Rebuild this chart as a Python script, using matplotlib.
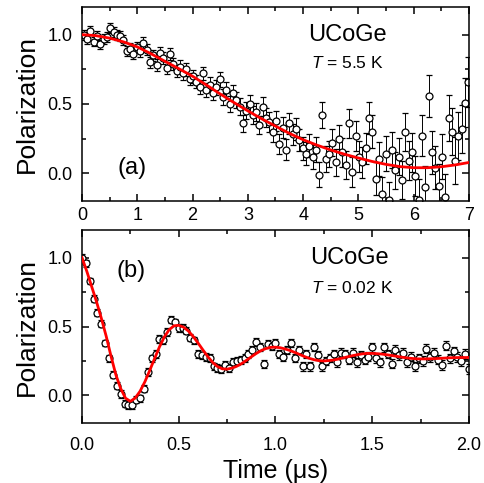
import numpy as np
import matplotlib
matplotlib.use("Agg")
import matplotlib.pyplot as plt
from matplotlib.ticker import MultipleLocator

plt.rcParams['font.family'] = ['Liberation Sans', 'DejaVu Sans']
plt.rcParams['mathtext.fontset'] = 'custom'
plt.rcParams['mathtext.rm'] = 'Liberation Sans'
plt.rcParams['mathtext.it'] = 'Liberation Sans:italic'

# ---- panel (a): T = 5.5 K ----
time_a = [0.03, 0.09, 0.15, 0.21, 0.27, 0.33, 0.39, 0.45, 0.51, 0.57,
          0.63, 0.69, 0.75, 0.81, 0.87, 0.93, 0.99, 1.05, 1.11, 1.17,
          1.23, 1.29, 1.35, 1.41, 1.47, 1.53, 1.59, 1.65, 1.71, 1.77,
          1.83, 1.89, 1.95, 2.01, 2.07, 2.13, 2.19, 2.25, 2.31, 2.37,
          2.43, 2.49, 2.55, 2.61, 2.67, 2.73, 2.79, 2.85, 2.91, 2.97,
          3.03, 3.09, 3.15, 3.21, 3.27, 3.33, 3.39, 3.45, 3.51, 3.57,
          3.63, 3.69, 3.75, 3.81, 3.87, 3.93, 3.99, 4.05, 4.11, 4.17,
          4.23, 4.29, 4.35, 4.41, 4.47, 4.53, 4.59, 4.65, 4.71, 4.77,
          4.83, 4.89, 4.95, 5.01, 5.07, 5.13, 5.19, 5.25, 5.31, 5.37,
          5.43, 5.49, 5.55, 5.61, 5.67, 5.73, 5.79, 5.85, 5.91, 5.97,
          6.03, 6.09, 6.15, 6.21, 6.27, 6.33, 6.39, 6.45, 6.51, 6.57,
          6.63, 6.69, 6.75, 6.81, 6.87, 6.93, 6.99]
pol_a = [1.00, 0.97, 1.03, 0.95, 0.99, 0.93, 0.97, 0.98, 1.05, 1.02,
         1.00, 0.99, 0.96, 0.88, 0.90, 0.86, 0.91, 0.88, 0.94, 0.89,
         0.80, 0.85, 0.78, 0.87, 0.83, 0.76, 0.86, 0.79, 0.74, 0.77,
         0.72, 0.75, 0.68, 0.70, 0.66, 0.62, 0.72, 0.60, 0.64, 0.58,
         0.62, 0.68, 0.55, 0.60, 0.50, 0.58, 0.53, 0.48, 0.36, 0.45,
         0.50, 0.42, 0.44, 0.35, 0.48, 0.40, 0.37, 0.30, 0.38, 0.21,
         0.33, 0.17, 0.36, 0.28, 0.32, 0.24, 0.18, 0.14, 0.20, 0.12,
         0.17, -0.01, 0.42, 0.10, 0.14, 0.22, 0.08, 0.25, 0.15, 0.06,
         0.36, 0.01, 0.27, 0.12, 0.08, 0.18, 0.40, 0.30, -0.04, 0.10,
         -0.15, 0.14, -0.19, 0.17, 0.02, 0.12, -0.05, 0.30, 0.09, 0.15,
         -0.02, -0.19, 0.27, -0.10, 0.56, 0.15, 0.04, -0.09, 0.12, -0.17,
         0.40, 0.30, 0.09, 0.27, 0.32, 0.51, 0.66]
err_a = [0.035, 0.035, 0.035, 0.035, 0.035, 0.035, 0.035, 0.036, 0.036, 0.036,
         0.036, 0.036, 0.037, 0.037, 0.038, 0.038, 0.039, 0.039, 0.040, 0.040,
         0.040, 0.041, 0.041, 0.041, 0.042, 0.042, 0.043, 0.043, 0.044, 0.044,
         0.045, 0.046, 0.046, 0.047, 0.048, 0.049, 0.049, 0.050, 0.051, 0.052,
         0.053, 0.054, 0.055, 0.056, 0.057, 0.058, 0.059, 0.060, 0.061, 0.062,
         0.063, 0.064, 0.065, 0.066, 0.067, 0.068, 0.070, 0.071, 0.072, 0.073,
         0.075, 0.076, 0.077, 0.079, 0.080, 0.081, 0.083, 0.084, 0.086, 0.087,
         0.089, 0.090, 0.092, 0.094, 0.095, 0.097, 0.098, 0.100, 0.102, 0.103,
         0.105, 0.107, 0.109, 0.110, 0.112, 0.114, 0.116, 0.118, 0.120, 0.122,
         0.124, 0.126, 0.128, 0.130, 0.132, 0.134, 0.136, 0.138, 0.140, 0.142,
         0.144, 0.146, 0.148, 0.150, 0.152, 0.155, 0.157, 0.159, 0.162, 0.164,
         0.167, 0.169, 0.171, 0.173, 0.176, 0.178, 0.182]
fit_t_a = [0.00, 0.25, 0.50, 0.75, 1.00, 1.25, 1.50, 1.75, 2.00, 2.25,
           2.50, 2.75, 3.00, 3.25, 3.50, 3.75, 4.00, 4.25, 4.50, 4.75,
           5.00, 5.25, 5.50, 5.75, 6.00, 6.25, 6.50, 6.75, 7.00]
fit_a = [1.000, 0.993, 0.975, 0.948, 0.912, 0.862, 0.808, 0.755, 0.700, 0.637,
         0.572, 0.510, 0.450, 0.393, 0.340, 0.288, 0.242, 0.203, 0.168, 0.137,
         0.110, 0.085, 0.064, 0.048, 0.040, 0.040, 0.047, 0.060, 0.078]

# ---- panel (b): T = 0.02 K ----
time_b = [0.00, 0.02, 0.04, 0.06, 0.08, 0.10, 0.12, 0.14, 0.16, 0.18,
          0.20, 0.22, 0.24, 0.26, 0.28, 0.30, 0.32, 0.34, 0.36, 0.38,
          0.40, 0.42, 0.44, 0.46, 0.48, 0.50, 0.52, 0.54, 0.56, 0.58,
          0.60, 0.62, 0.64, 0.66, 0.68, 0.70, 0.72, 0.74, 0.76, 0.78,
          0.80, 0.82, 0.84, 0.86, 0.88, 0.90, 0.92, 0.94, 0.96, 0.98,
          1.00, 1.02, 1.04, 1.06, 1.08, 1.10, 1.12, 1.14, 1.16, 1.18,
          1.20, 1.22, 1.24, 1.26, 1.28, 1.30, 1.32, 1.34, 1.36, 1.38,
          1.40, 1.42, 1.44, 1.46, 1.48, 1.50, 1.52, 1.54, 1.56, 1.58,
          1.60, 1.62, 1.64, 1.66, 1.68, 1.70, 1.72, 1.74, 1.76, 1.78,
          1.80, 1.82, 1.84, 1.86, 1.88, 1.90, 1.92, 1.94, 1.96, 1.98, 2.00]
pol_b = [1.00, 0.96, 0.83, 0.70, 0.60, 0.52, 0.38, 0.27, 0.15, 0.07,
         0.01, -0.06, -0.07, -0.07, -0.03, -0.02, 0.05, 0.17, 0.27, 0.30,
         0.41, 0.40, 0.46, 0.55, 0.53, 0.49, 0.49, 0.47, 0.42, 0.40,
         0.30, 0.29, 0.28, 0.27, 0.21, 0.20, 0.19, 0.22, 0.20, 0.24,
         0.25, 0.26, 0.27, 0.30, 0.33, 0.39, 0.35, 0.23, 0.37, 0.36,
         0.38, 0.30, 0.28, 0.33, 0.38, 0.27, 0.33, 0.21, 0.30, 0.21,
         0.35, 0.29, 0.21, 0.25, 0.27, 0.30, 0.24, 0.31, 0.30, 0.26,
         0.31, 0.24, 0.29, 0.26, 0.28, 0.35, 0.27, 0.24, 0.35, 0.30,
         0.23, 0.33, 0.29, 0.31, 0.24, 0.28, 0.21, 0.27, 0.25, 0.34,
         0.28, 0.31, 0.26, 0.22, 0.36, 0.27, 0.32, 0.28, 0.25, 0.30, 0.19]
err_b = [0.025, 0.025, 0.025, 0.025, 0.025, 0.025, 0.025, 0.025, 0.025, 0.025,
         0.026, 0.026, 0.026, 0.026, 0.026, 0.026, 0.026, 0.026, 0.026, 0.026,
         0.027, 0.027, 0.027, 0.027, 0.027, 0.027, 0.027, 0.027, 0.027, 0.027,
         0.028, 0.028, 0.028, 0.028, 0.028, 0.028, 0.028, 0.028, 0.028, 0.028,
         0.029, 0.029, 0.029, 0.029, 0.029, 0.029, 0.029, 0.029, 0.029, 0.029,
         0.030, 0.030, 0.030, 0.030, 0.030, 0.030, 0.030, 0.030, 0.030, 0.030,
         0.031, 0.031, 0.031, 0.031, 0.031, 0.031, 0.031, 0.031, 0.031, 0.031,
         0.032, 0.032, 0.032, 0.032, 0.032, 0.032, 0.032, 0.032, 0.032, 0.032,
         0.033, 0.033, 0.033, 0.033, 0.033, 0.033, 0.033, 0.033, 0.033, 0.033,
         0.034, 0.034, 0.034, 0.034, 0.034, 0.034, 0.034, 0.034, 0.034, 0.034, 0.035]
fit_t_b = [0.000, 0.025, 0.050, 0.075, 0.100, 0.125, 0.150, 0.175, 0.200, 0.225,
           0.250, 0.275, 0.300, 0.325, 0.350, 0.375, 0.400, 0.425, 0.450, 0.475,
           0.500, 0.525, 0.550, 0.575, 0.600, 0.625, 0.650, 0.675, 0.700, 0.725,
           0.750, 0.775, 0.800, 0.825, 0.850, 0.875, 0.900, 0.925, 0.950, 0.975,
           1.000, 1.025, 1.050, 1.075, 1.100, 1.125, 1.150, 1.175, 1.200, 1.225,
           1.250, 1.275, 1.300, 1.325, 1.350, 1.375, 1.400, 1.425, 1.450, 1.475,
           1.500, 1.525, 1.550, 1.575, 1.600, 1.625, 1.650, 1.675, 1.700, 1.725,
           1.750, 1.775, 1.800, 1.825, 1.850, 1.875, 1.900, 1.925, 1.950, 1.975, 2.000]
fit_b = [1.000, 0.900, 0.790, 0.680, 0.560, 0.430, 0.285, 0.150, 0.050, -0.020,
         -0.043, -0.019, 0.030, 0.099, 0.181, 0.267, 0.351, 0.423, 0.476, 0.505,
         0.509, 0.495, 0.467, 0.427, 0.380, 0.330, 0.282, 0.240, 0.210, 0.193,
         0.191, 0.198, 0.212, 0.231, 0.255, 0.280, 0.304, 0.325, 0.340, 0.349,
         0.350, 0.346, 0.337, 0.326, 0.312, 0.297, 0.282, 0.269, 0.259, 0.252,
         0.250, 0.253, 0.257, 0.264, 0.272, 0.281, 0.289, 0.296, 0.302, 0.305,
         0.305, 0.303, 0.300, 0.295, 0.290, 0.284, 0.278, 0.273, 0.269, 0.266,
         0.265, 0.265, 0.266, 0.267, 0.269, 0.271, 0.273, 0.274, 0.275, 0.275, 0.275]


def style_axes(ax, xmajor, xminor, xpad):
    ax.set_ylim(-0.2, 1.2)
    ax.yaxis.set_major_locator(MultipleLocator(0.5))
    ax.yaxis.set_minor_locator(MultipleLocator(0.25))
    ax.xaxis.set_major_locator(MultipleLocator(xmajor))
    ax.xaxis.set_minor_locator(MultipleLocator(xminor))
    ax.tick_params(which='both', direction='in', top=True, right=True, width=1.1)
    ax.tick_params(which='major', length=5)
    ax.tick_params(which='minor', length=3)
    ax.tick_params(axis='y', labelsize=13, pad=7)
    ax.tick_params(axis='x', labelsize=13, pad=xpad)
    for sp in ax.spines.values():
        sp.set_linewidth(1.1)
    ax.set_ylabel("Polarization", fontsize=19, labelpad=6)


fig = plt.figure(figsize=(4.84, 4.83), dpi=100)
ax1 = fig.add_axes([0.1694, 0.5839, 0.7996, 0.4017])
ax2 = fig.add_axes([0.1694, 0.1242, 0.7996, 0.3996])

ax1.errorbar(time_a, pol_a, yerr=err_a, fmt='o', ms=5, mfc='white', mec='black',
             mew=0.9, ecolor='black', elinewidth=0.7, capsize=2.5, capthick=0.7, zorder=2)
ax1.plot(fit_t_a, fit_a, color='red', lw=2, zorder=3)
ax1.set_xlim(0, 7)
style_axes(ax1, 1, 0.5, 4)
ax1.text(0.687, 0.856, "UCoGe", transform=ax1.transAxes, fontsize=17, ha='center', va='center')
ax1.text(0.685, 0.711, "$T$ = 5.5 K", transform=ax1.transAxes, fontsize=12.5, ha='center', va='center')
ax1.text(0.13, 0.17, "(a)", transform=ax1.transAxes, fontsize=17, ha='center', va='center')

ax2.errorbar(time_b, pol_b, yerr=err_b, fmt='o', ms=5, mfc='white', mec='black',
             mew=0.9, ecolor='black', elinewidth=0.7, capsize=2.5, capthick=0.7, zorder=2)
ax2.plot(fit_t_b, fit_b, color='red', lw=2, zorder=3)
ax2.set_xlim(0, 2)
style_axes(ax2, 0.5, 0.25, 10)
ax2.text(0.69, 0.855, "UCoGe", transform=ax2.transAxes, fontsize=17, ha='center', va='center')
ax2.text(0.698, 0.70, "$T$ = 0.02 K", transform=ax2.transAxes, fontsize=12.5, ha='center', va='center')
ax2.text(0.127, 0.79, "(b)", transform=ax2.transAxes, fontsize=17, ha='center', va='center')
ax2.set_xlabel("Time (μs)", fontsize=18, labelpad=4)

fig.savefig("out.png", dpi=100)
